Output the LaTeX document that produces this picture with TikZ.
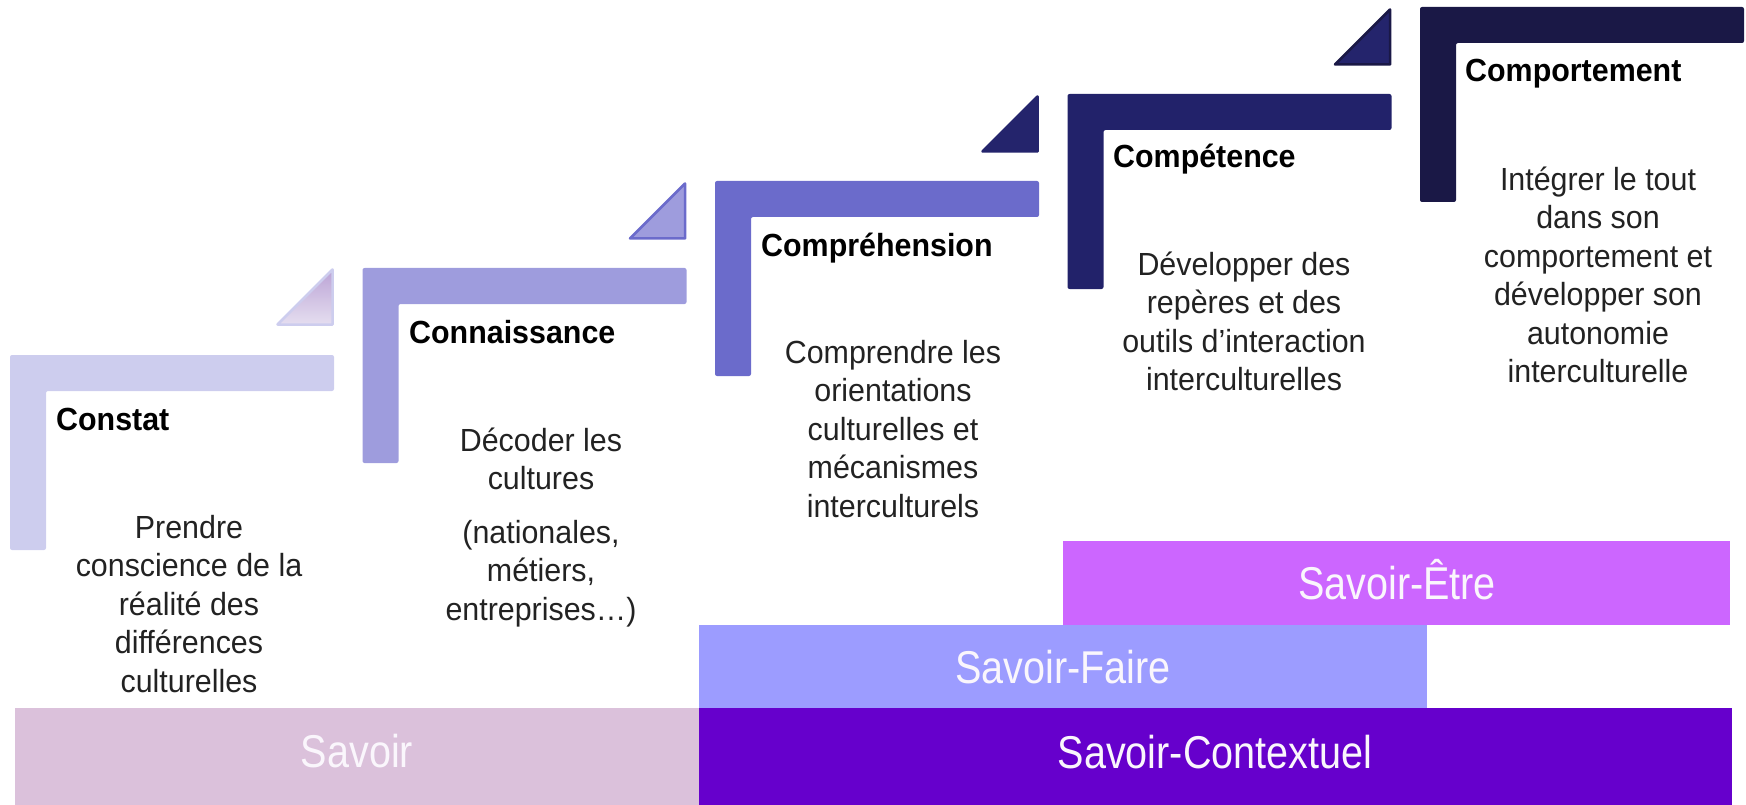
\documentclass[tikz,border=0pt]{standalone}
\usepackage{fontspec}
\setmainfont{Liberation Sans}
\newfontfamily\bodyf[FakeStretch=0.95]{Liberation Sans}
\newfontfamily\labf[FakeStretch=0.86]{Liberation Sans}
\definecolor{cone}{HTML}{CDCDEE}
\definecolor{ctwo}{HTML}{9E9CDD}
\definecolor{cthree}{HTML}{6B6BCB}
\definecolor{cfour}{HTML}{22226A}
\definecolor{cfive}{HTML}{1A1846}
\definecolor{ctrithree}{HTML}{24246C}
\definecolor{tritop}{HTML}{BBA3D5}
\definecolor{tribot}{HTML}{E5DEF0}
\definecolor{csavoir}{HTML}{DBC1DB}
\definecolor{cctx}{HTML}{6600CC}
\definecolor{cfaire}{HTML}{9C9CFF}
\definecolor{cetre}{HTML}{CC66FF}
\definecolor{bodytext}{HTML}{222222}
\definecolor{labtext}{HTML}{FAF6FC}
\newcommand\stepshape[3]{%
  \fill[#3, rounded corners=2pt] (#1,#2) -- ++(324,0) -- ++(0,36) -- ++(-288,0) -- ++(0,159) -- ++(-36,0) -- cycle;}
\begin{document}
\begin{tikzpicture}[x=1pt,y=-1pt,
  title/.style={font=\bfseries\bodyf\fontsize{32}{38}\selectfont, text=black, inner sep=0pt, anchor=base west},
  body/.style={font=\bodyf\fontsize{32}{38.5}\selectfont, text=bodytext, align=center, inner sep=0pt, anchor=north},
  lab/.style={font=\labf\fontsize{46}{50}\selectfont, text=labtext, inner sep=0pt, anchor=base},
  barbox/.style={draw=none, inner sep=0pt, rectangle},
  tri/.style={line width=2.5pt, line join=round}]
\useasboundingbox (0,0) rectangle (1746,805);

% bottom bars
\node[barbox, fill=csavoir, minimum width=684pt, minimum height=97pt, anchor=north west] (bsavoir) at (15,708) {};
\node[barbox, fill=cctx, minimum width=1033pt, minimum height=97pt, anchor=north west] (bctx) at (699,708) {};
\node[barbox, fill=cfaire, minimum width=728pt, minimum height=83pt, anchor=north west] (bfaire) at (699,625) {};
\node[barbox, fill=cetre, minimum width=667pt, minimum height=84pt, anchor=north west] (betre) at (1063,541) {};
\node[lab] (lsavoir) at (357,767) {Savoir};
\node[lab] (lctx) at (1215,768) {Savoir-Contextuel};
\node[lab] (lfaire) at (1063,683) {Savoir-Faire};
\node[lab] (letre) at (1397,599) {Savoir-Être};

% steps
\stepshape{10}{355}{cone}
\stepshape{362.5}{268}{ctwo}
\stepshape{715}{181}{cthree}
\stepshape{1067.5}{94}{cfour}
\stepshape{1420}{7}{cfive}

% triangles
\shade[top color=tritop, bottom color=tribot] (332.5,269.5) -- (332.5,324.5) -- (277.5,324.5) -- cycle;
\draw[tri, cone] (332.5,269.5) -- (332.5,324.5) -- (277.5,324.5) -- cycle;
\filldraw[tri, fill=ctwo, draw=cthree] (685,183.5) -- (685,238.5) -- (630,238.5) -- cycle;
\filldraw[tri, fill=ctrithree, draw=ctrithree] (1037.5,96.5) -- (1037.5,151.5) -- (982.5,151.5) -- cycle;
\filldraw[tri, fill=ctrithree, draw=cfive] (1390,9.5) -- (1390,64.5) -- (1335,64.5) -- cycle;

% titles
\node[title] (t1) at (56,430) {Constat};
\node[title] (t2) at (409,343) {Connaissance};
\node[title] (t3) at (761,257) {Compréhension};
\node[title] (t4) at (1113,168) {Compétence};
\node[title] (t5) at (1465,82) {Comportement};

% descriptions
\node[body] (d1) at (189,508) {\rule{0pt}{30pt}Prendre\\conscience de la\\réalité des\\différences\\culturelles};
\node[body] (d2) at (541,421) {\rule{0pt}{30pt}Décoder les\\cultures\\[15pt](nationales,\\métiers,\\entreprises…)};
\node[body] (d3) at (893,333) {\rule{0pt}{30pt}Comprendre les\\orientations\\culturelles et\\mécanismes\\interculturels};
\node[body] (d4) at (1244,245) {\rule{0pt}{30pt}Développer des\\repères et des\\outils d’interaction\\interculturelles};
\node[body] (d5) at (1598,160) {\rule{0pt}{30pt}Intégrer le tout\\dans son\\comportement et\\développer son\\autonomie\\interculturelle};
\end{tikzpicture}
\end{document}
